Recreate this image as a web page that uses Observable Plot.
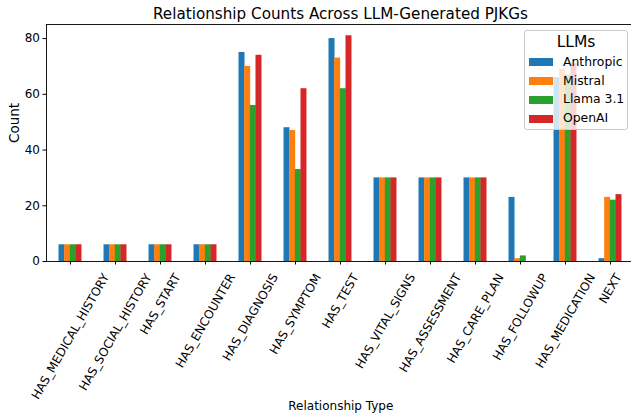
<!DOCTYPE html>
<html>
<head>
<meta charset="utf-8">
<script src="https://cdn.jsdelivr.net/npm/d3@7"></script>
<script src="https://cdn.jsdelivr.net/npm/@observablehq/plot@0.6"></script>
<style>
  body { margin: 0; background: #fff; font-family: "DejaVu Sans", sans-serif; }
  #wrap { position: relative; width: 631px; height: 418px; overflow: hidden; background: #fff; }
  #title { position: absolute; left: 46px; top: 7px; width: 589px; text-align: center;
           font-size: 15.2px; line-height: 15.2px; color: #000; white-space: nowrap; }
  #chart { position: absolute; left: 0; top: 22px; }
  #legend { position: absolute; left: 524px; top: 30px; width: 104px; height: 100px; box-sizing: border-box;
            background: rgba(255,255,255,0.8); border: 1px solid #cccccc; border-radius: 3px; }
  #legend .lt { position: absolute; left: 0; width: 100%; text-align: center; font-size: 15.5px; line-height: 15.5px; color: #000; }
  #legend .sw { position: absolute; width: 24px; height: 8px; }
  #legend .lb { position: absolute; font-size: 12.4px; line-height: 12.4px; color: #000; white-space: nowrap; }
</style>
</head>
<body>
<div id="wrap">
  <div id="title">Relationship Counts Across LLM-Generated PJKGs</div>
  <div id="chart"></div>
  <div id="legend"></div>
</div>
<script>
const categories = ["HAS_MEDICAL_HISTORY", "HAS_SOCIAL_HISTORY", "HAS_START", "HAS_ENCOUNTER",
  "HAS_DIAGNOSIS", "HAS_SYMPTOM", "HAS_TEST", "HAS_VITAL_SIGNS", "HAS_ASSESSMENT",
  "HAS_CARE_PLAN", "HAS_FOLLOWUP", "HAS_MEDICATION", "NEXT"];
const series = ["Anthropic", "Mistral", "Llama 3.1", "OpenAI"];
const colors = ["#1f77b4", "#ff7f0e", "#2ca02c", "#d62728"];
const anthropic = [6, 6, 6, 6, 75, 48, 80, 30, 30, 30, 23, 66, 1];
const mistral   = [6, 6, 6, 6, 70, 47, 73, 30, 30, 30, 1, 69, 23];
const llama     = [6, 6, 6, 6, 56, 33, 62, 30, 30, 30, 2, 67, 22];
const openai    = [6, 6, 6, 6, 74, 62, 81, 30, 30, 30, 0, 71, 24];
const yTicks = [0, 20, 40, 60, 80];
const legendTitle = "LLMs";
const xLabel = "Relationship Type";
const yLabel = "Count";

const valuesBySeries = [anthropic, mistral, llama, openai];
const table = [];
series.forEach((s, i) => categories.forEach((c, j) => table.push({series: s, category: c, value: valuesBySeries[i][j]})));

const W = 631, H = 396;
const mL = 46, mR = -3.6, mT = 2, mB = 157;
const step = (W - mR - mL) / categories.length;
const barW = 0.125 * step;

const fs = 12;
const ctx = document.createElement("canvas").getContext("2d");
ctx.font = `${fs}px "DejaVu Sans"`;
const sin60 = Math.sin(Math.PI / 3), cos60 = 0.5;
function labelDy(t) {
  const L = ctx.measureText(t).width;
  const h = 0.95 * fs;
  return 10.5 + (L * sin60 + h * cos60) / 2;
}

const chart = Plot.plot({
  width: W, height: H,
  marginLeft: mL, marginRight: mR, marginTop: mT, marginBottom: mB,
  style: {fontFamily: "DejaVu Sans", fontSize: fs + "px", background: "transparent", color: "#000"},
  x: {type: "band", domain: categories, paddingInner: 0.875, paddingOuter: 0.4375, axis: null},
  y: {domain: [0, 85.05], axis: null},
  marks: [
    ...series.map((s, i) => Plot.barY(table.filter(d => d.series === s), {
      x: "category", y: "value", fill: colors[i], dx: (i - 1.5) * barW
    })),
    Plot.frame({stroke: "#000", strokeWidth: 0.9}),
    Plot.axisY({ticks: yTicks, tickSize: 3.5, tickPadding: 3, fontSize: 12, label: null, tickFormat: d => String(d)}),
    Plot.axisX({tickSize: 3.5, tickFormat: () => "", label: null}),
    ...categories.map(c => Plot.text([c], {
      x: d => d, text: d => d, frameAnchor: "bottom", rotate: -60,
      textAnchor: "middle", lineAnchor: "middle", dy: labelDy(c), fontSize: fs
    })),
    Plot.text([yLabel], {text: d => d, frameAnchor: "left", dx: -32, rotate: -90, fontSize: 13.5, lineAnchor: "middle"}),
    Plot.text([xLabel], {text: d => d, frameAnchor: "bottom", dy: 145, fontSize: 12, lineAnchor: "middle"})
  ]
});
document.getElementById("chart").appendChild(chart);

const legend = document.getElementById("legend");
const lt = document.createElement("div");
lt.className = "lt"; lt.style.top = "4px"; lt.textContent = legendTitle;
legend.appendChild(lt);
series.forEach((s, i) => {
  const cy = 62.3 + i * 18.8 - 30 - 1;
  const sw = document.createElement("div");
  sw.className = "sw"; sw.style.left = "4px"; sw.style.top = (cy - 4) + "px"; sw.style.background = colors[i];
  legend.appendChild(sw);
  const lb = document.createElement("div");
  lb.className = "lb"; lb.style.left = "38px"; lb.style.top = (cy - 6.5) + "px"; lb.textContent = s;
  legend.appendChild(lb);
});
</script>
</body>
</html>
